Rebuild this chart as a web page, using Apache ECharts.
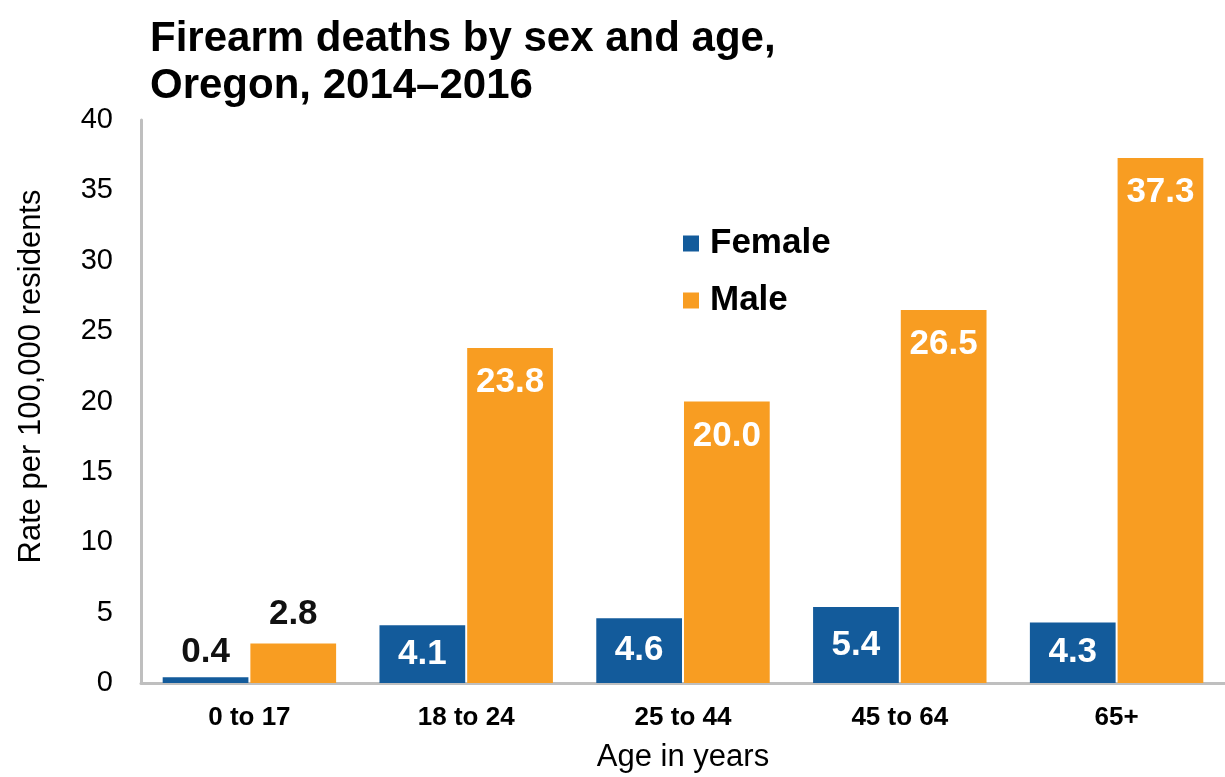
<!DOCTYPE html>
<html><head><meta charset="utf-8">
<script src="https://cdn.jsdelivr.net/npm/echarts@6/dist/echarts.min.js"></script>
<style>html,body{margin:0;padding:0;background:#fff}#c{width:1225px;height:777px}</style>
</head><body><div id="c"></div>
<script>
const categories = ['0 to 17', '18 to 24', '25 to 44', '45 to 64', '65+'];
const female = [0.4, 4.1, 4.6, 5.4, 4.3];
const male = [2.8, 23.8, 20.0, 26.5, 37.3];
const yTicks = [0, 5, 10, 15, 20, 25, 30, 35, 40];

const FONT = 'Liberation Sans, Arial, sans-serif';
const BLUE = '#135B9B';
const ORANGE = '#F89D22';

function mk(vals, insidePos, insideDist) {
  return vals.map(v => {
    const small = v < 3.5;
    return {
      value: v,
      label: small
        ? {position: 'top', color: '#111', distance: v < 1 ? 8 : 12}
        : {position: insidePos, color: '#fff', distance: insideDist}
    };
  });
}

const labelBase = {show: true, fontFamily: FONT, fontSize: 35, fontWeight: 'bold', formatter: p => p.value.toFixed(1)};

const chart = echarts.init(document.getElementById('c'));
chart.setOption({
  animation: false,
  textStyle: {fontFamily: FONT},
  title: {
    text: 'Firearm deaths by sex and age,\nOregon, 2014\u20132016',
    left: 145, top: 11,
    textStyle: {fontFamily: FONT, fontSize: 42, fontWeight: 'bold', color: '#000', lineHeight: 47}
  },
  legend: {
    orient: 'vertical', left: 678, top: 221, itemGap: 22,
    itemWidth: 16, itemHeight: 16, icon: 'rect',
    textStyle: {fontFamily: FONT, fontSize: 35, fontWeight: 'bold', color: '#000', padding: [0, 0, 0, 6]},
    data: ['Female', 'Male']
  },
  grid: {left: 141, right: 0, top: 120, bottom: 94, containLabel: false, outerBoundsMode: 'none'},
  xAxis: {
    type: 'category', data: categories,
    name: 'Age in years', nameLocation: 'middle', nameGap: 59,
    nameTextStyle: {fontFamily: FONT, fontSize: 31, color: '#000'},
    axisLine: {lineStyle: {color: '#BFBFBF', width: 3}},
    axisTick: {show: false},
    axisLabel: {fontFamily: FONT, fontSize: 26, fontWeight: 'bold', color: '#000', margin: 22}
  },
  yAxis: {
    type: 'value', min: yTicks[0], max: yTicks[yTicks.length - 1], interval: 5,
    name: 'Rate per 100,000 residents', nameLocation: 'middle', nameGap: 94, nameRotate: 90,
    nameTextStyle: {fontFamily: FONT, fontSize: 31, color: '#000', padding: [0, 0, 0, 50]},
    axisLine: {show: true, lineStyle: {color: '#BFBFBF', width: 3}},
    axisTick: {show: false},
    splitLine: {show: false},
    axisLabel: {fontFamily: FONT, fontSize: 29, color: '#000', margin: 28}
  },
  series: [
    {name: 'Female', type: 'bar', data: mk(female, 'inside', 0), itemStyle: {color: BLUE},
     barGap: '2.3%', barCategoryGap: '20%', label: labelBase},
    {name: 'Male', type: 'bar', data: mk(male, 'insideTop', 17), itemStyle: {color: ORANGE},
     barGap: '2.3%', barCategoryGap: '20%', label: labelBase}
  ]
});
</script></body></html>
